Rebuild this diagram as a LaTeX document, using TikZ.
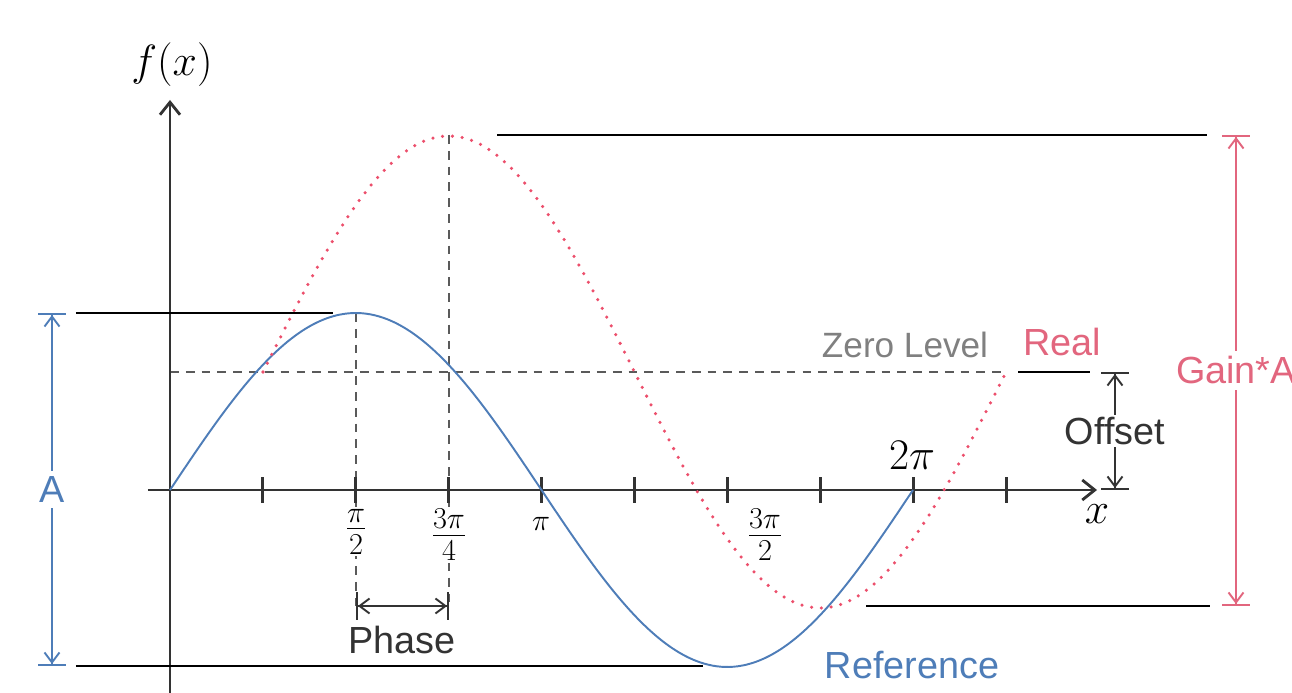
\documentclass[tikz,border=0pt]{standalone}
\usepackage[no-math]{fontspec}
\setmainfont{Liberation Sans}
\usepackage{xcolor}
\usetikzlibrary{arrows.meta}
\definecolor{RefBlue}{HTML}{4E7DB8}
\definecolor{RealRed}{HTML}{EC4F6C}
\definecolor{LabelRed}{HTML}{E2667E}
\definecolor{DashGray}{HTML}{5A5A5A}
\definecolor{InkGray}{HTML}{333333}

\begin{document}
\begin{tikzpicture}[
    x=0.02cm, y=0.02cm,
    axis/.style={line width=1.6pt, color=black!80},
    guide/.style={dash pattern=on 5pt off 4pt, line width=0.8pt, color=DashGray},
    bound/.style={line width=1.2pt, color=black},
    dim/.style={line width=1.1pt, {Bar[width=5.5mm]Straight Barb[length=2mm,width=3mm]}-{Straight Barb[length=2mm,width=3mm]Bar[width=5.5mm]}},
    txt/.style={font=\fontsize{21.5}{25}\selectfont, text=InkGray},
    mth/.style={font=\fontsize{24}{28}\selectfont}
]
\useasboundingbox (-170,-203) rectangle (1122,490);

% guides
\draw[guide] (0,118) -- (835,118);
\draw[guide] (186,177) -- (186,-116);
\draw[guide] (279,355) -- (279,-116);

% axes
\draw[axis, -{Straight Barb[length=2.5mm,width=4mm]}] (-22,0) -- (927,0);
\draw[axis, -{Straight Barb[length=2.5mm,width=4mm]}] (0,-203) -- (0,390);
\foreach \k in {1,...,9}{\draw[axis] (\k*92.9,-13) -- (\k*92.9,13);}

% curves
\draw[RefBlue, line width=1.1pt] plot[domain=0:743, samples=90, smooth] (\x, {177*sin(\x/743*360)});
\draw[RealRed, line width=2pt, dash pattern=on 0pt off 5.6pt, line cap=round] plot[domain=93:836, samples=90, smooth] (\x, {118+236*sin((\x-93)/743*360)});

% levels
\draw[bound] (-94,177) -- (163,177);
\draw[bound] (-94,-176) -- (533,-176);
\draw[bound] (327,355) -- (1037,355);
\draw[bound] (696,-116) -- (1040,-116);
\draw[bound] (848,118) -- (920,118);

% tick labels
\node[mth, fill=white, inner sep=1pt, anchor=north] (lhalf) at (186,-17) {$\frac{\pi}{2}$};
\node[mth, fill=white, inner sep=1pt, anchor=north] (lthree) at (279,-17) {$\frac{3\pi}{4}$};
\node[mth, font=\fontsize{17}{20}\selectfont, inner sep=1pt, anchor=north] (lpi) at (371,-25) {$\pi$};
\node[mth, inner sep=1pt, anchor=north] (lthreehalf) at (595,-17) {$\frac{3\pi}{2}$};
\node[mth] (twopi) at (742,35) {$2\pi$};
\node[mth, anchor=north] (xlab) at (927,-8) {$x$};
\node[mth] (fx) at (2,425) {$f(x)$};

% dimensions
\draw[dim, RefBlue] (-118,177) -- node[txt, fill=white, text=RefBlue] (amp) {A} (-118,-176);
\draw[dim, LabelRed] (1066,355) -- node[txt, fill=white, text=LabelRed] (gain) {Gain*A} (1066,-116);
\draw[dim, InkGray] (945,118) -- node[txt, fill=white, inner sep=1pt] (offset) {Offset} (945,0);
\draw[dim, InkGray] (186,-116) -- (279,-116);
\node[txt] (phase) at (232,-150) {Phase};

% labels
\node[font=\fontsize{20}{24}\selectfont, text=gray] (zero) at (735,145) {Zero Level};
\node[txt, text=LabelRed] (real) at (892,148) {Real};
\node[txt, text=RefBlue] (ref) at (742,-175) {Reference};

\end{tikzpicture}
\end{document}
